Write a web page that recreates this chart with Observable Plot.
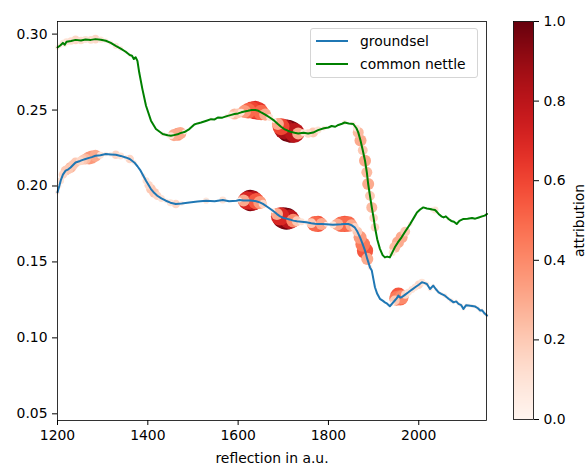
<!DOCTYPE html>
<html><head><meta charset="utf-8">
<script src="https://cdn.jsdelivr.net/npm/d3@7"></script>
<script src="https://cdn.jsdelivr.net/npm/@observablehq/plot@0.6"></script>
<style>
body{margin:0;background:#fff;font-family:"DejaVu Sans",sans-serif;}
#wrap{position:relative;width:585px;height:464px;overflow:hidden;}
#wrap > svg{position:absolute;left:0;top:0;}
#legend{position:absolute;left:310px;top:28px;width:166px;height:48px;border:1px solid #d5d5d5;border-radius:3px;background:rgba(255,255,255,0.85);font-size:13.9px;color:#000;}
#legend .row{position:absolute;left:0;height:20px;display:flex;align-items:center;}
#legend .sw{width:32px;height:0;border-top:2px solid;margin-left:5px;margin-right:12px;}
</style></head><body><div id="wrap"><div id="legend"></div></div>
<script>
const seriesNames = ["groundsel", "common nettle"];
const seriesColors = ["#1f77b4", "#008000"];
const xTicks = [1200, 1400, 1600, 1800, 2000];
const yTicks = [0.05, 0.10, 0.15, 0.20, 0.25, 0.30];
const cbTicks = [0, 0.2, 0.4, 0.6, 0.8, 1.0];

const groundselWl = [1200,1204,1207,1212,1218,1224,1229,1235,1240,1250,1256,1262,1270,1276,1284,1295,1307,1318,1329,1340,1351,1360,1370,1377,1384,1390,1396,1402,1407,1414,1421,1430,1440,1450,1462,1475,1492,1510,1529,1548,1566,1580,1596,1603,1612,1620,1627,1633,1640,1648,1655,1666,1677,1686,1693,1700,1707,1714,1722,1730,1740,1751,1762,1770,1777,1785,1795,1810,1820,1828,1836,1844,1851,1858,1864,1870,1876,1881,1886,1892,1896,1900,1903,1908,1914,1920,1925,1930,1936,1941,1947,1951,1955,1959,1962,1970,1977,1985,1992,2000,2007,2012,2018,2025,2032,2038,2044,2050,2058,2066,2072,2077,2083,2088,2094,2099,2105,2110,2118,2125,2131,2136,2140,2146,2151];
const groundselRefl = [.1958,.2000,.2035,.2075,.2101,.2110,.2122,.2140,.2155,.2165,.2172,.2178,.2185,.2190,.2199,.2203,.2210,.2208,.2206,.2198,.2188,.2178,.2155,.2130,.2101,.2068,.2035,.2005,.1980,.1955,.1936,.1918,.1903,.1890,.1882,.1885,.1892,.1898,.1903,.1900,.1908,.1900,.1903,.1908,.1905,.1905,.1905,.1903,.1900,.1892,.1882,.1860,.1837,.1815,.1800,.1790,.1785,.1780,.1772,.1768,.1765,.1761,.1755,.1752,.1750,.1750,.1748,.1745,.1747,.1748,.1750,.1750,.1742,.1728,.1700,.1662,.1615,.1574,.1520,.1464,.1443,.1380,.1333,.1290,.1257,.1245,.1234,.1225,.1208,.1225,.1246,.1260,.1278,.1265,.1267,.1285,.1300,.1318,.1333,.1350,.1366,.1362,.1355,.1322,.1344,.1320,.1300,.1290,.1278,.1258,.1245,.1234,.1240,.1224,.1215,.1191,.1215,.1213,.1210,.1206,.1195,.1180,.1182,.1160,.1147];
const groundselAttr = [.05,.05,.1,.15,.2,.2,.25,.2,.2,.15,.2,.25,.35,.35,.3,.1,.05,.05,.15,.1,.05,.15,.05,0,0,.05,.1,.15,.2,.2,.15,.1,.05,.1,.15,.05,0,0,.08,0,.1,0,0,.05,.3,.7,.95,.8,.55,.35,.15,0,.05,.3,.7,.95,1.0,.8,.4,.2,.1,.05,.2,.5,.55,.3,.05,.1,.3,.5,.55,.5,.3,.15,.2,.35,.45,.55,.3,.05,0,0,0,0,0,0,0,0,0,.05,.2,.45,.55,.5,.4,.15,.1,.1,.1,.15,.1,.05,.05,.05,.03,.03,.03,.03,.05,.03,.05,.03,.03,.03,.03,.03,.03,.03,.03,.03,.03,.03,.03,.03,.03];

const nettleWl = [1200,1206,1212,1216,1220,1230,1240,1252,1262,1274,1284,1296,1307,1318,1329,1340,1351,1360,1365,1369,1373,1377,1381,1388,1396,1407,1418,1433,1444,1451,1458,1466,1472,1481,1492,1503,1510,1518,1530,1540,1548,1555,1565,1575,1585,1592,1600,1607,1614,1622,1630,1638,1645,1651,1660,1670,1680,1688,1695,1702,1710,1718,1725,1733,1745,1755,1766,1777,1790,1800,1807,1815,1822,1830,1836,1845,1855,1862,1866,1871,1876,1881,1885,1888,1892,1896,1900,1903,1908,1914,1920,1925,1930,1936,1941,1947,1954,1962,1970,1981,1990,1996,2003,2010,2018,2025,2030,2036,2040,2044,2050,2055,2060,2066,2072,2078,2084,2090,2099,2108,2118,2125,2133,2140,2146,2151];
const nettleRefl = [.2912,.2925,.2942,.2930,.2950,.2955,.2962,.2958,.2964,.2962,.2967,.2963,.2956,.2942,.2923,.2905,.2884,.2862,.2858,.2836,.2848,.2824,.2747,.2638,.2528,.2430,.2375,.2342,.2334,.2331,.2335,.2340,.2348,.2355,.2375,.2405,.2412,.2418,.2430,.2440,.2438,.2451,.2450,.2460,.2468,.2474,.2478,.2485,.2491,.2495,.2500,.2500,.2495,.2484,.2470,.2451,.2430,.2408,.2390,.2375,.2364,.2355,.2350,.2346,.2350,.2346,.2352,.2368,.2380,.2385,.2395,.2390,.2402,.2410,.2418,.2412,.2408,.2380,.2353,.2300,.2235,.2166,.2090,.2013,.1935,.1859,.1790,.1728,.1650,.1586,.1545,.1530,.1535,.1530,.1560,.1596,.1630,.1662,.1700,.1750,.1795,.1826,.1845,.1859,.1852,.1849,.1845,.1842,.1830,.1816,.1800,.1793,.1800,.1783,.1770,.1765,.1750,.1770,.1783,.1785,.1789,.1785,.1793,.1800,.1805,.1816];
const nettleAttr = [.05,.05,.08,.05,.1,.12,.15,.12,.1,.12,.15,.08,.05,.05,.08,.05,.03,.03,0,0,0,0,0,0,0,0,0,.05,.05,.1,.3,.35,.3,.05,0,0,0,0,0,.03,0,0,0,.05,.1,.25,.2,.1,.35,.5,.6,.7,.65,.5,.3,.1,.05,.3,.6,.85,1.0,.95,.8,.3,.1,.15,.2,.1,.05,0,0,0,0,0,.05,0,.05,.1,.25,.3,.2,.3,.25,.3,.2,.25,.15,.15,0,0,0,0,0,0,.1,.25,.3,.3,.2,.05,0,0,0,0,0,0,.05,.1,0,0,0,0,0,.03,0,0,0,0,0,0,0,0,0,.03,0,0];

const toRows = (name, wl, refl, attr) => wl.map((w, i) => ({species: name, wl: w, refl: refl[i], attr: attr[i]}));
const groundsel = toRows(seriesNames[0], groundselWl, groundselRefl, groundselAttr);
const nettle = toRows(seriesNames[1], nettleWl, nettleRefl, nettleAttr);

const font = {fontFamily: "'DejaVu Sans', sans-serif", fontSize: "13.9px", color: "#000", background: "transparent", overflow: "visible"};

const main = Plot.plot({
  width: 585, height: 464,
  marginLeft: 57, marginRight: 99, marginTop: 21, marginBottom: 44,
  style: font,
  x: {domain: [1200, 2150], ticks: xTicks, tickFormat: d => String(d), tickSize: 5, tickPadding: 5,
      label: "reflection in a.u.", labelAnchor: "center", labelArrow: "none", labelOffset: 42},
  y: {domain: [0.0456, 0.3083], ticks: yTicks, tickFormat: ".2f", tickSize: 5, tickPadding: 5, label: null},
  color: {type: "linear", scheme: "reds", domain: [0, 1]},
  r: {domain: [0, 1], range: [0, 11]},
  marks: [
    Plot.dot(groundsel.filter(d => d.attr > 0), {x: "wl", y: "refl", r: "attr", fill: "attr", stroke: null}),
    Plot.dot(nettle.filter(d => d.attr > 0), {x: "wl", y: "refl", r: "attr", fill: "attr", stroke: null}),
    Plot.line(groundsel, {x: "wl", y: "refl", stroke: seriesColors[0], strokeWidth: 2}),
    Plot.line(nettle, {x: "wl", y: "refl", stroke: seriesColors[1], strokeWidth: 2}),
    Plot.frame({stroke: "#000", strokeWidth: 0.8})
  ]
});

const cbar = Plot.plot({
  width: 585, height: 464,
  marginLeft: 513, marginRight: 52, marginTop: 21, marginBottom: 45,
  style: font,
  x: {domain: [0, 1], axis: null},
  y: {domain: [0, 1], axis: "right", ticks: cbTicks, tickFormat: ".1f", tickSize: 5, tickPadding: 5,
      label: "attribution", labelAnchor: "center", labelArrow: "none", labelOffset: 50},
  color: {type: "linear", scheme: "reds", domain: [0, 1]},
  marks: [
    Plot.raster({x1: 0, x2: 1, y1: 0, y2: 1, fill: (x, y) => y, pixelSize: 1}),
    Plot.frame({stroke: "#000", strokeWidth: 0.8})
  ]
});

const wrap = document.getElementById("wrap");
wrap.insertBefore(cbar, wrap.firstChild);
wrap.insertBefore(main, wrap.firstChild);

const legend = document.getElementById("legend");
seriesNames.forEach((name, i) => {
  const row = document.createElement("div");
  row.className = "row";
  row.style.top = (2 + i * 23) + "px";
  const sw = document.createElement("div");
  sw.className = "sw";
  sw.style.borderTopColor = seriesColors[i];
  const label = document.createElement("span");
  label.textContent = name;
  row.appendChild(sw);
  row.appendChild(label);
  legend.appendChild(row);
});
</script></body></html>
